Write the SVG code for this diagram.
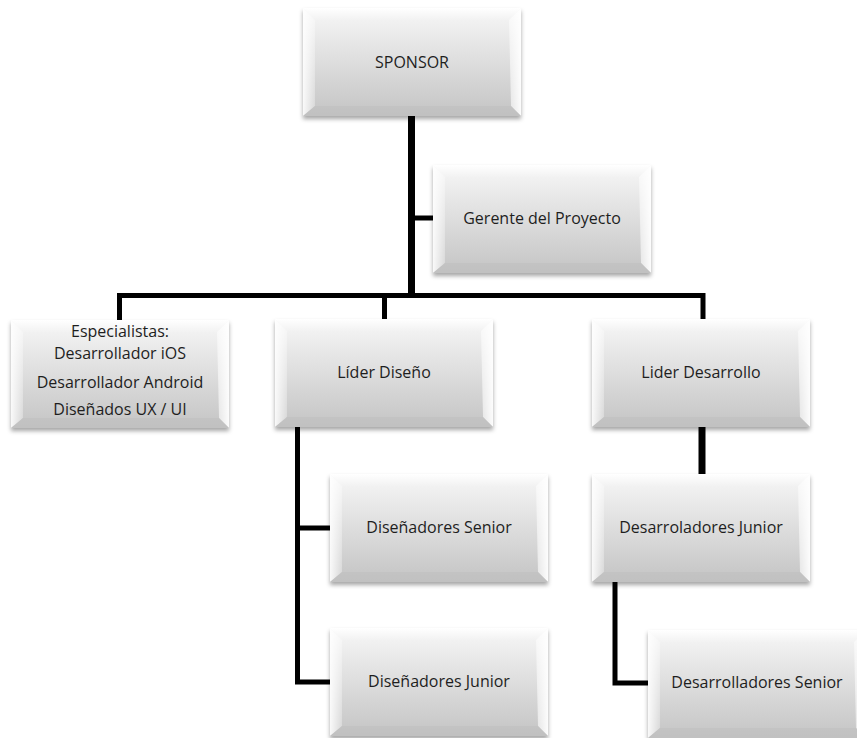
<svg xmlns="http://www.w3.org/2000/svg" xmlns:xlink="http://www.w3.org/1999/xlink" width="857" height="738" viewBox="0 0 857 738">
  <style>
    text { font-family: "Open Sans", "Liberation Sans", sans-serif; font-size: 16px; fill: #1e1e1e; text-anchor: middle; }
    .conn { fill: none; stroke: #000; stroke-width: 5; stroke-linejoin: miter; }
    .thick { stroke-width: 7; }
  </style>
  <defs>
    <linearGradient id="face" x1="0" y1="0" x2="0" y2="1">
      <stop offset="0" stop-color="#f7f7f7"/>
      <stop offset="1" stop-color="#c4c4c4"/>
    </linearGradient>
    <linearGradient id="topBev" x1="0" y1="0" x2="0" y2="1">
      <stop offset="0" stop-color="#ffffff"/>
      <stop offset="1" stop-color="#f2f2f2"/>
    </linearGradient>
    <linearGradient id="leftBev" x1="0" y1="0" x2="1" y2="0">
      <stop offset="0" stop-color="#ffffff" stop-opacity="0.9"/>
      <stop offset="1" stop-color="#ffffff" stop-opacity="0.3"/>
    </linearGradient>
    <linearGradient id="rightBev" x1="1" y1="0" x2="0" y2="0">
      <stop offset="0" stop-color="#ffffff" stop-opacity="0.95"/>
      <stop offset="1" stop-color="#ffffff" stop-opacity="0.5"/>
    </linearGradient>
    <filter id="shadow" x="-10%" y="-10%" width="120%" height="130%">
      <feDropShadow dx="0" dy="3" stdDeviation="2" flood-color="#000" flood-opacity="0.35"/>
    </filter>
    <g id="box">
      <g filter="url(#shadow)">
        <rect x="0" y="0" width="218" height="108" fill="url(#face)"/>
      </g>
      <polygon points="0,0 218,0 206,12 12,12" fill="url(#topBev)"/>
      <polygon points="0,0 12,12 12,98 0,108" fill="url(#leftBev)"/>
      <polygon points="218,0 218,108 208,98 206,12" fill="url(#rightBev)"/>
      <polygon points="0,108 12,98 208,98 218,108" fill="#bdbdbd" opacity="0.5"/>
    </g>
  </defs>

  <rect width="857" height="738" fill="#ffffff"/>

  <g id="connectors">
    <path class="conn thick" d="M411.5 116 V298"/>
    <path class="conn" d="M411.5 218 H434"/>
    <path class="conn" d="M119.5 321 V295.5 H703 V320"/>
    <path class="conn" d="M384.5 295.5 V320"/>
    <path class="conn" d="M297.5 426 V682 H331"/>
    <path class="conn" d="M297.5 528 H331"/>
    <path class="conn thick" d="M702 426 V475"/>
    <path class="conn" d="M615 581 V683 H649"/>
  </g>

  <g id="sponsor">
    <use xlink:href="#box" x="303" y="8"/>
    <text x="412" y="68">SPONSOR</text>
  </g>
  <g id="gerente">
    <use xlink:href="#box" x="433" y="165"/>
    <text x="542" y="224">Gerente del Proyecto</text>
  </g>
  <g id="especialistas">
    <use xlink:href="#box" x="11" y="320"/>
    <text x="120" y="337">Especialistas:</text>
    <text x="120" y="359">Desarrollador iOS</text>
    <text x="120" y="388">Desarrollador Android</text>
    <text x="120" y="415">Diseñados UX / UI</text>
  </g>
  <g id="lider-diseno">
    <use xlink:href="#box" x="275" y="319"/>
    <text x="384" y="378">Líder Diseño</text>
  </g>
  <g id="lider-desarrollo">
    <use xlink:href="#box" x="592" y="319"/>
    <text x="701" y="378">Lider Desarrollo</text>
  </g>
  <g id="disenadores-senior">
    <use xlink:href="#box" x="330" y="474"/>
    <text x="439" y="533">Diseñadores Senior</text>
  </g>
  <g id="disenadores-junior">
    <use xlink:href="#box" x="330" y="628"/>
    <text x="439" y="687">Diseñadores Junior</text>
  </g>
  <g id="desarroladores-junior">
    <use xlink:href="#box" x="592" y="474"/>
    <text x="701" y="533">Desarroladores Junior</text>
  </g>
  <g id="desarrolladores-senior">
    <use xlink:href="#box" x="648" y="630"/>
    <text x="757" y="688">Desarrolladores Senior</text>
  </g>
</svg>
